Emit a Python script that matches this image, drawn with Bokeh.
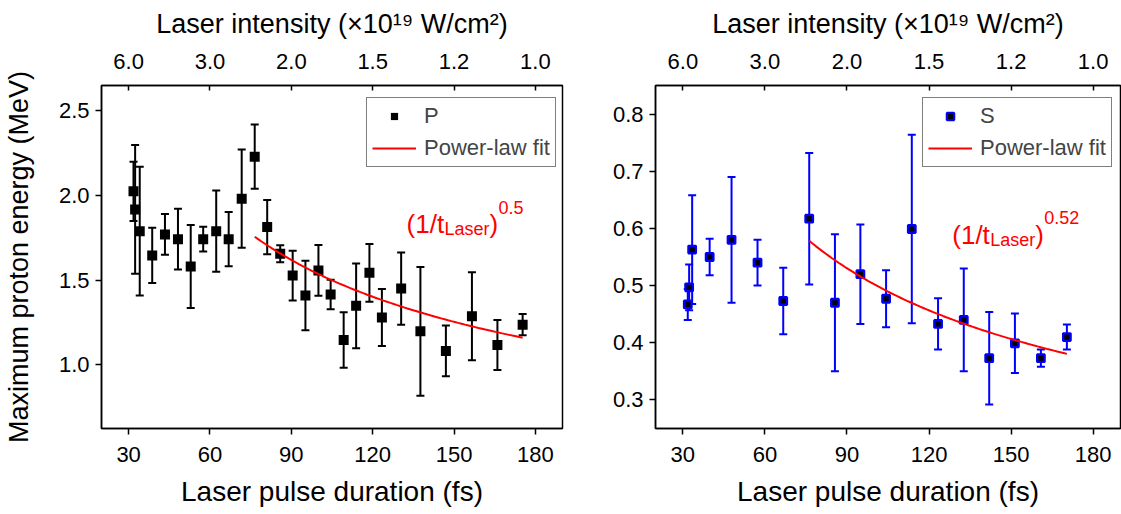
import numpy as np
from bokeh.plotting import figure
from bokeh.models import (Range1d, LinearAxis, FixedTicker, Whisker, TeeHead,
                          ColumnDataSource, Legend, LegendItem, NumeralTickFormatter)
from bokeh.layouts import row
from bokeh.core.properties import value
from bokeh.embed import file_html
from bokeh.resources import INLINE

# ---------------- data ----------------
pulse_ticks = [30, 60, 90, 120, 150, 180]
intensity_labels = ["6.0", "3.0", "2.0", "1.5", "1.2", "1.0"]

# P polarisation
t_p = [31.8, 32.4, 34.1, 38.7, 43.4, 48.2, 52.9, 57.5, 62.3, 66.9, 71.7, 76.5, 81.1, 85.9,
       90.5, 95.2, 100.0, 104.5, 109.3, 113.9, 118.8, 123.4, 130.5, 137.6, 147.0, 156.6,
       166.0, 175.3]
E_p = [2.025, 1.918, 1.79, 1.647, 1.771, 1.743, 1.582, 1.743, 1.79, 1.743, 1.982, 2.23,
       1.814, 1.657, 1.528, 1.41, 1.558, 1.416, 1.148, 1.349, 1.544, 1.28, 1.451, 1.199,
       1.083, 1.288, 1.118, 1.238]
err_p = [0.175, 0.38, 0.38, 0.163, 0.12, 0.18, 0.245, 0.073, 0.24, 0.16, 0.29, 0.19, 0.16,
         0.05, 0.147, 0.205, 0.15, 0.087, 0.164, 0.25, 0.17, 0.168, 0.213, 0.38, 0.15,
         0.26, 0.147, 0.063]
fit_p_range = [76.5, 175.3]
fit_p_amp = 15.37
fit_p_exp = 0.5

# S polarisation
t_s = [31.8, 32.3, 33.4, 39.8, 47.8, 57.3, 66.7, 76.2, 85.6, 94.9, 104.3, 113.7, 123.3,
       132.7, 142.0, 151.4, 160.9, 170.4]
E_s = [0.467, 0.497, 0.563, 0.55, 0.58, 0.54, 0.473, 0.617, 0.47, 0.52, 0.477, 0.599,
       0.433, 0.44, 0.373, 0.399, 0.373, 0.41]
err_s = [0.027, 0.04, 0.095, 0.032, 0.11, 0.04, 0.058, 0.115, 0.12, 0.087, 0.05, 0.165,
         0.045, 0.09, 0.081, 0.052, 0.015, 0.022]
fit_s_range = [76.2, 170.4]
fit_s_amp = 5.505
fit_s_exp = 0.52

FONT = "Liberation Sans"


def style_axis(ax, tick_in=0, tick_out=6, standoff=6, label_standoff=8, title_size="27px"):
    ax.axis_label_text_font = FONT
    ax.axis_label_text_font_size = title_size
    ax.axis_label_text_font_style = "normal"
    ax.axis_label_text_color = "black"
    ax.major_label_text_font = FONT
    ax.major_label_text_font_size = "22px"
    ax.major_label_text_color = "black"
    ax.axis_line_width = 1.5
    ax.axis_line_color = "black"
    ax.major_tick_line_width = 1.5
    ax.major_tick_line_color = "black"
    ax.minor_tick_line_color = None
    ax.major_tick_in = tick_in
    ax.major_tick_out = tick_out
    ax.major_label_standoff = standoff
    ax.axis_label_standoff = label_standoff


def make_panel(t, E, err, fit_range, amp, expo, yr, yticks, color, marker_fill,
               series_label, exp_label, anno_xy, width, bl, br, legend_loc, ylabel):
    p = figure(width=width, height=514, x_range=Range1d(20, 190), y_range=Range1d(*yr),
               output_backend="svg", toolbar_location=None,
               min_border_left=bl, min_border_right=br, min_border_top=85,
               min_border_bottom=86)
    p.xgrid.visible = False
    p.ygrid.visible = False
    p.outline_line_color = "black"
    p.outline_line_width = 1.5
    p.outline_line_alpha = 1.0

    xa = p.xaxis[0]
    xa.ticker = FixedTicker(ticks=pulse_ticks)
    xa.axis_label = "Laser pulse duration (fs)"
    style_axis(xa, tick_out=6, standoff=12, label_standoff=11, title_size="28px")

    ya = p.yaxis[0]
    ya.ticker = FixedTicker(ticks=yticks)
    ya.formatter = NumeralTickFormatter(format="0.0")
    ya.axis_label = ylabel
    style_axis(ya, tick_out=6, standoff=6, label_standoff=22)

    top = LinearAxis(ticker=FixedTicker(ticks=pulse_ticks),
                     major_label_overrides=dict(zip(pulse_ticks, intensity_labels)),
                     axis_label="Laser intensity (×10¹⁹ W/cm²)")
    style_axis(top, tick_in=5, tick_out=0, standoff=17, label_standoff=12)
    p.add_layout(top, "above")

    t_arr = np.array(t)
    E_arr = np.array(E)
    e_arr = np.array(err)
    src = ColumnDataSource(dict(base=t_arr, lower=E_arr - e_arr, upper=E_arr + e_arr))
    wh = Whisker(source=src, base="base", lower="lower", upper="upper", dimension="height",
                 line_color=color, line_width=2, level="underlay",
                 upper_head=TeeHead(size=8, line_color=color, line_width=2),
                 lower_head=TeeHead(size=8, line_color=color, line_width=2))
    p.add_layout(wh)

    if marker_fill == color:
        r_pts = p.scatter(t, E, marker="square", size=10, fill_color=color,
                          line_color=color, line_width=0)
    else:
        r_pts = p.scatter(t, E, marker="square", size=7.5, fill_color=marker_fill,
                          line_color=color, line_width=2.3)

    ft = np.linspace(fit_range[0], fit_range[1], 80)
    fe = amp * ft ** (-expo)
    r_fit = p.line(ft, fe, line_color="red", line_width=2)

    ax, ay = anno_xy
    common = dict(text_font=value(FONT), text_color="red", text_baseline="alphabetic",
                  text_align="left")
    p.text(x=[ax], y=[ay], text=["(1/t"], text_font_size="26px", **common)
    p.text(x=[ax], y=[ay], text=["Laser"], text_font_size="18px", x_offset=38, y_offset=5,
           **common)
    p.text(x=[ax], y=[ay], text=[")"], text_font_size="26px", x_offset=83, **common)
    p.text(x=[ax], y=[ay], text=[exp_label], text_font_size="18px", x_offset=92,
           y_offset=-17, **common)

    legend = Legend(items=[LegendItem(label=series_label, renderers=[r_pts]),
                           LegendItem(label="Power-law fit", renderers=[r_fit])],
                    location=legend_loc)
    legend.border_line_color = "black"
    legend.border_line_width = 1.5
    legend.background_fill_color = "white"
    legend.background_fill_alpha = 1.0
    legend.label_text_font = FONT
    legend.label_text_font_size = "22px"
    legend.glyph_width = 44
    legend.glyph_height = 18
    legend.label_height = 26
    legend.spacing = 6
    legend.padding = 5
    legend.margin = 0
    legend.label_standoff = 8
    p.add_layout(legend)
    return p


p1 = make_panel(t_p, E_p, err_p, fit_p_range, fit_p_amp, fit_p_exp, (0.625, 2.65),
                [1.0, 1.5, 2.0, 2.5], "black", "black", "P", "0.5", (132.5, 1.83),
                572, 97, 10, (265, 261), "Maximum proton energy (MeV)")
p2 = make_panel(t_s, E_s, err_s, fit_s_range, fit_s_amp, fit_s_exp, (0.25, 0.85),
                [0.3, 0.4, 0.5, 0.6, 0.7, 0.8], "blue", "black", "S", "0.52", (128.5, 0.589),
                549, 83, 1, (267, 261), "")

layout = row(p1, p2)
open("out.html", "w").write(file_html(layout, INLINE))
